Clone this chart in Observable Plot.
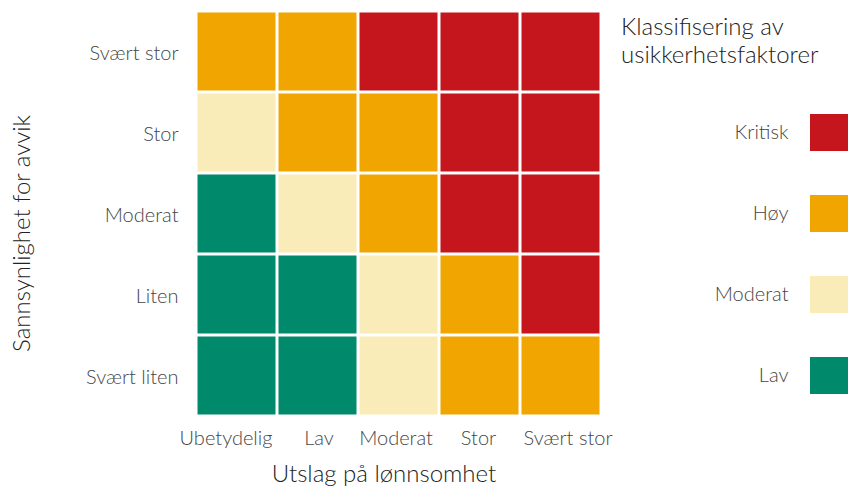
<!DOCTYPE html>
<html>
<head>
<meta charset="utf-8">
<script src="https://cdn.jsdelivr.net/npm/d3@7"></script>
<script src="https://cdn.jsdelivr.net/npm/@observablehq/plot@0.6"></script>
<style>
  html, body { margin: 0; padding: 0; background: #fff; }
  #wrap { position: relative; width: 849px; height: 487px; font-family: Lato, "Open Sans", sans-serif; }
  #legend { position: absolute; left: 600px; top: 0; }
  #ltitle { position: absolute; left: 621px; top: 12px; font-size: 24px; line-height: 28px; color: #222; font-weight: 300; }
</style>
</head>
<body>
<div id="wrap"><div id="ltitle">Klassifisering av<br>usikkerhetsfaktorer</div></div>
<script>
// Categories
const impact = ["Ubetydelig", "Lav", "Moderat", "Stor", "Svært stor"];        // x axis
const likelihood = ["Svært stor", "Stor", "Moderat", "Liten", "Svært liten"]; // y axis, top to bottom
const classes = ["Kritisk", "Høy", "Moderat", "Lav"];
const classColors = ["#c4161c", "#f0a500", "#faecb8", "#00896a"];

// Classification per likelihood row (columns follow `impact`)
const rowSvaertStor  = ["Høy", "Høy", "Kritisk", "Kritisk", "Kritisk"];
const rowStor        = ["Moderat", "Høy", "Høy", "Kritisk", "Kritisk"];
const rowModerat     = ["Lav", "Moderat", "Høy", "Kritisk", "Kritisk"];
const rowLiten       = ["Lav", "Lav", "Moderat", "Høy", "Kritisk"];
const rowSvaertLiten = ["Lav", "Lav", "Moderat", "Høy", "Høy"];

const xLabel = "Utslag på lønnsomhet";
const yLabel = "Sannsynlighet for avvik";

const rows = [rowSvaertStor, rowStor, rowModerat, rowLiten, rowSvaertLiten];
const cells = [];
rows.forEach((r, i) => r.forEach((c, j) => cells.push({x: impact[j], y: likelihood[i], cls: c})));

const font = "Lato, 'Open Sans', sans-serif";

// small horizontal nudges of the x tick labels (as in the original layout)
const xTickNudge = [-11, 1, -3, -1.5, 7];
const xAxes = impact.map((t, i) =>
  Plot.axisX([t], {tickSize: 0, tickPadding: 14, label: null, fontSize: 20, dx: xTickNudge[i]})
);

const main = Plot.plot({
  width: 849,
  height: 487,
  marginLeft: 196,
  marginRight: 248,
  marginTop: 11,
  marginBottom: 71,
  style: {fontFamily: font, fontSize: "20px", color: "#454545", fontWeight: 300, background: "transparent"},
  x: {domain: impact, padding: 0, label: null},
  y: {domain: likelihood, padding: 0, label: null},
  color: {domain: classes, range: classColors},
  marks: [
    Plot.cell(cells, {x: "x", y: "y", fill: "cls", inset: 1.5}),
    ...xAxes,
    Plot.axisY({tickSize: 0, tickPadding: 18, label: null, fontSize: 20, dy: 1.5}),
    Plot.text([xLabel], {frameAnchor: "bottom", lineAnchor: "middle", textAnchor: "middle", dy: 58, dx: -15, fontSize: 24, fill: "#222"}),
    Plot.text([yLabel], {frameAnchor: "left", lineAnchor: "middle", textAnchor: "middle", dx: -174, dy: 19.5, rotate: -90, fontSize: 24, fill: "#222"})
  ]
});

const legend = Plot.plot({
  width: 249,
  height: 487,
  marginLeft: 210,
  marginRight: 1,
  marginTop: 92,
  marginBottom: 71,
  style: {fontFamily: font, fontSize: "20px", color: "#454545", fontWeight: 300, background: "transparent"},
  x: {domain: ["swatch"], padding: 0, axis: null},
  y: {domain: classes, padding: 0, axis: null},
  color: {domain: classes, range: classColors},
  marks: [
    Plot.cell(classes, {x: () => "swatch", y: d => d, fill: d => d, insetTop: 22, insetBottom: 22}),
    Plot.text(classes, {y: d => d, text: d => d, frameAnchor: "left", dx: -22, textAnchor: "end", fontSize: 20, fill: "#454545"})
  ]
});
legend.id = "legend";

const wrap = document.getElementById("wrap");
wrap.insertBefore(main, wrap.firstChild);
wrap.appendChild(legend);
main.style.position = "absolute";
main.style.left = "0";
main.style.top = "0";
</script>
</body>
</html>
